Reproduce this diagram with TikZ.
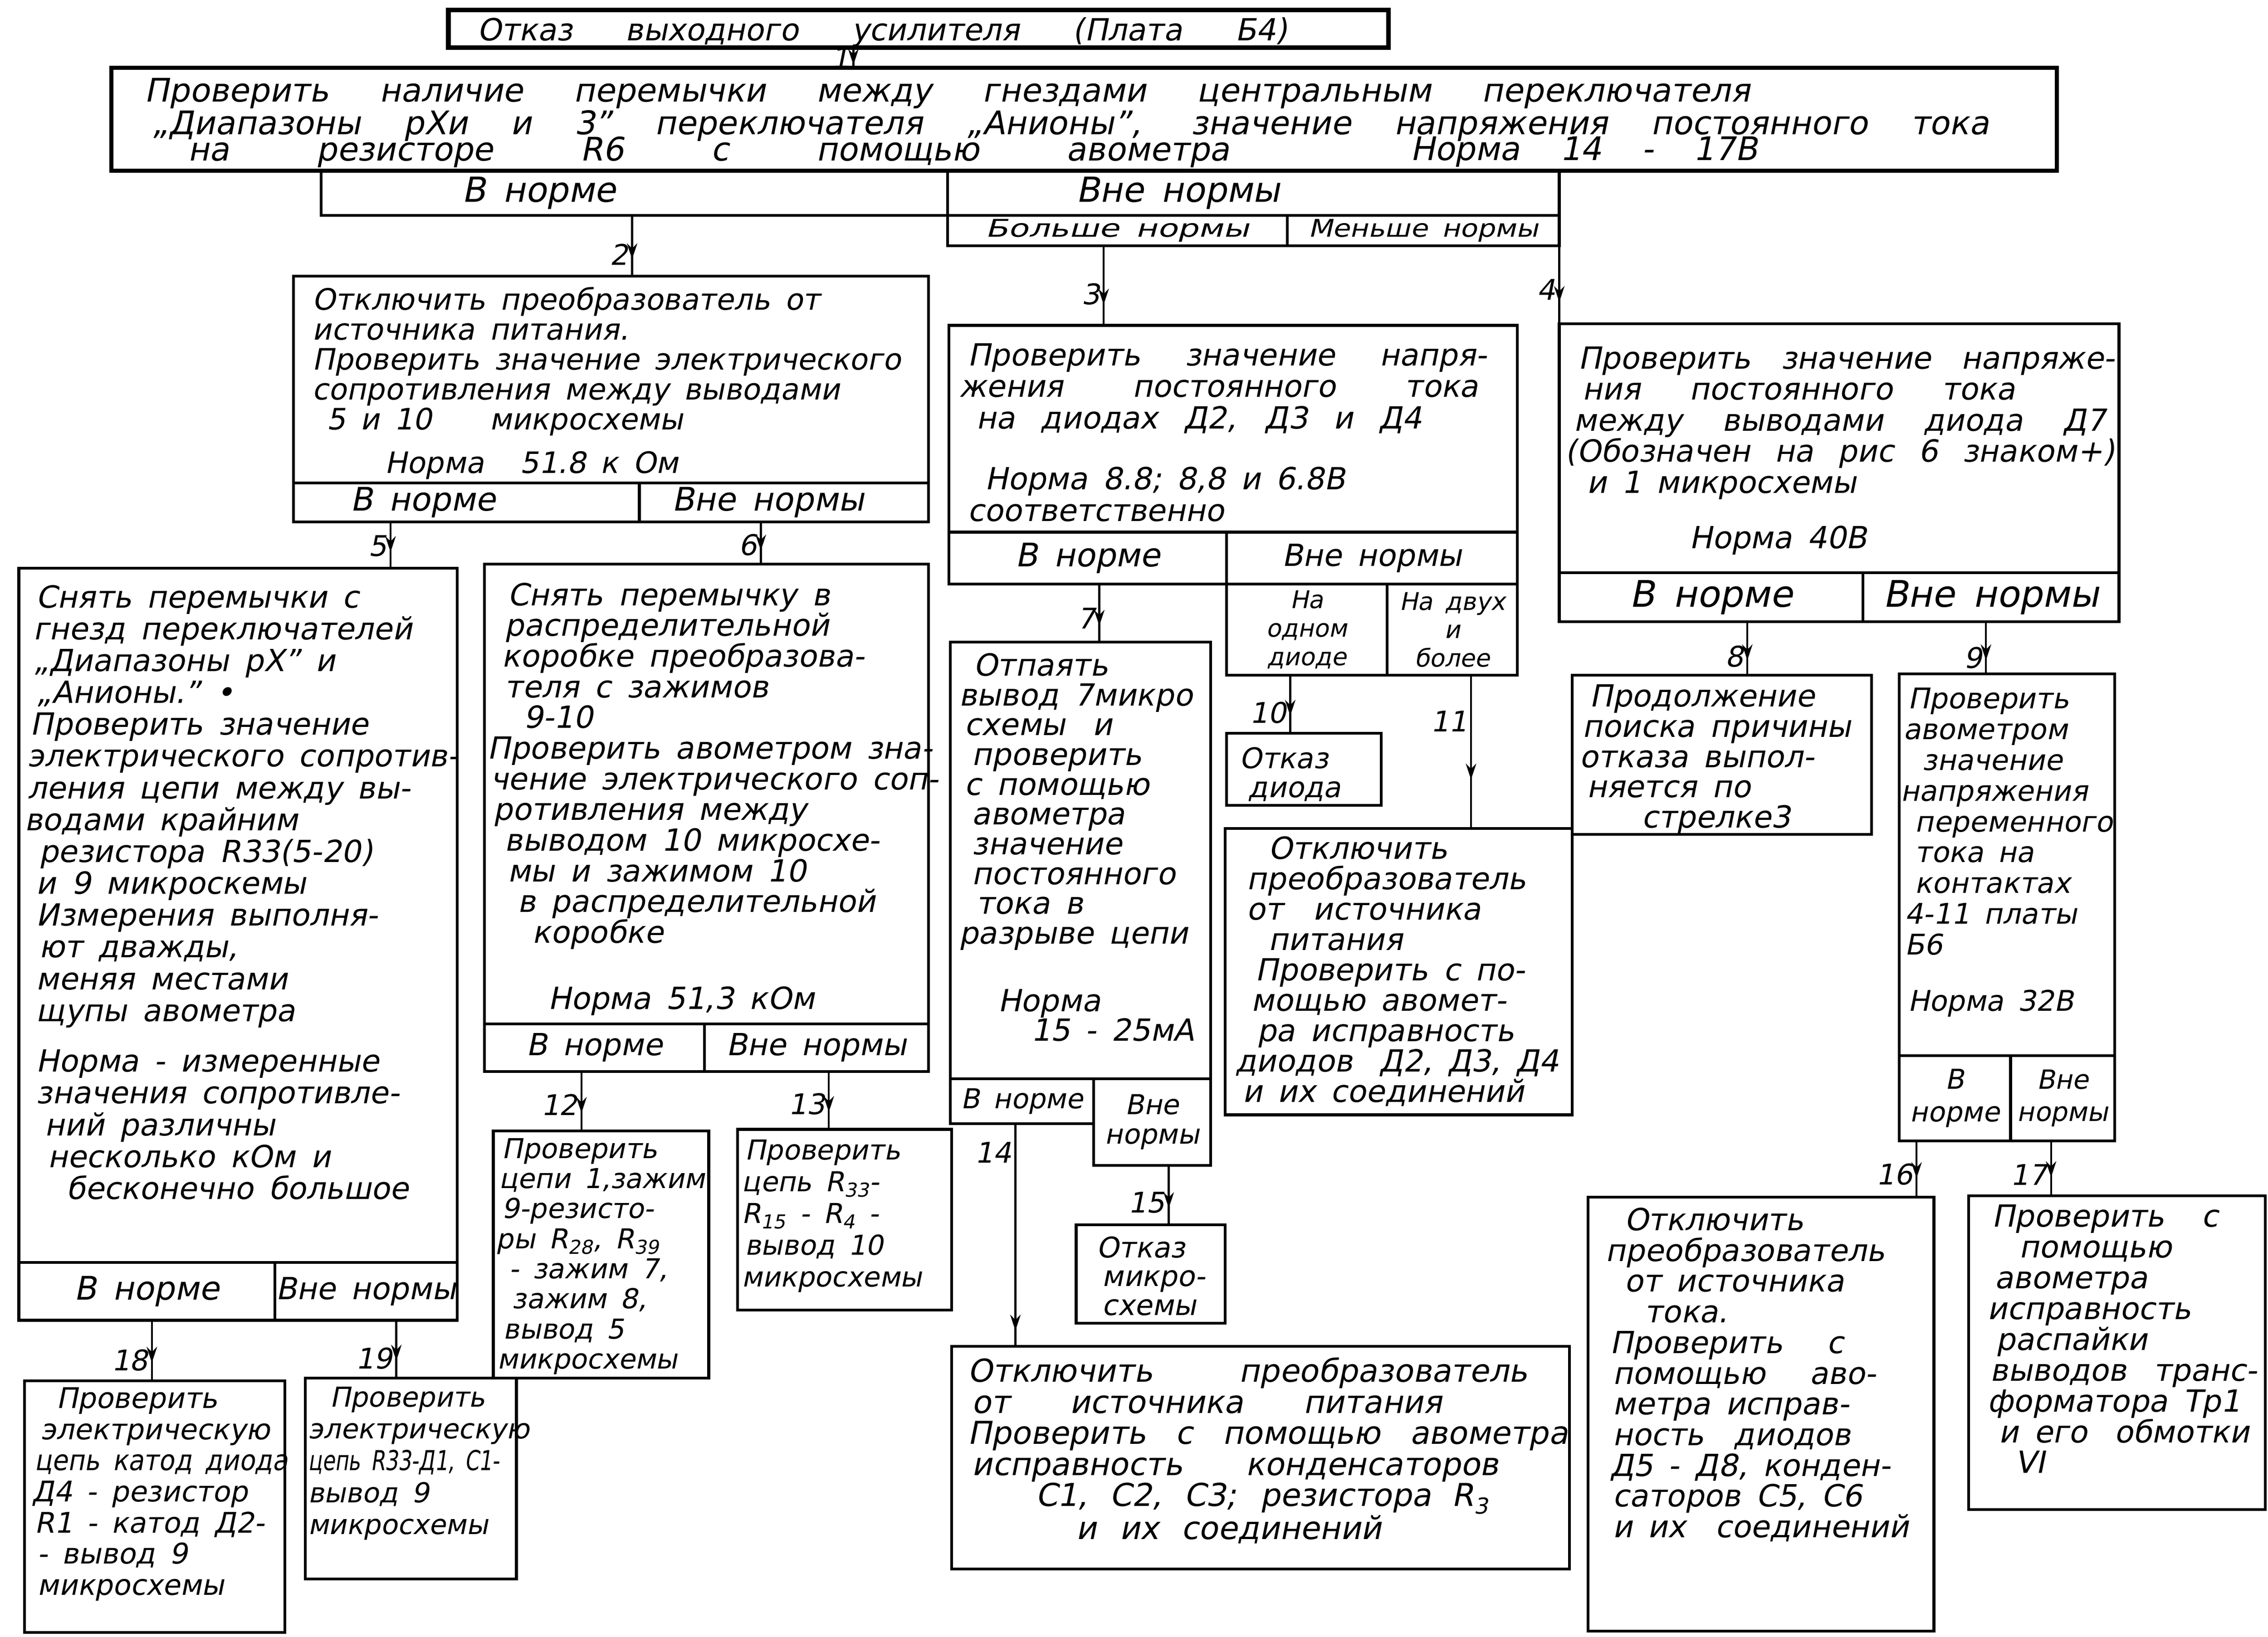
\documentclass[tikz,border=0pt]{standalone}
\usepackage{fontspec}
\setmainfont{DejaVu Sans}[FakeSlant=0.2]
\usepackage{graphicx}
\usetikzlibrary{arrows.meta,decorations.markings}
\newdimen\pxu \pxu=0.05cm
\newcommand\Tst{\rule{0pt}{23pt}}
\newcommand\hsp[1]{\hspace*{#1\pxu}}
\newcommand\myfs[2]{\fontsize{#1}{#2}\selectfont\spaceskip=0.5em plus 0.3em minus 0.1em\relax}
\newcommand\bx[6][]{\node[boxst,anchor=north west,minimum width={(#5-#3)*0.05cm},minimum height={(#6-#4)*0.05cm},#1] (#2) at (#3,#4) {};}
\newcommand\cel[7][]{\node[cellst,anchor=north west,minimum width={(#5-#3)*0.05cm},minimum height={(#6-#4)*0.05cm},#1] (#2) at (#3,#4) {#7};}
\tikzset{
  boxst/.style={draw,line width=2.8pt,inner sep=0pt,outer sep=0pt},
  cellst/.style={draw,line width=2.8pt,inner sep=0pt,outer sep=0pt,align=center},
  txt/.style={inner sep=0pt,outer sep=0pt,align=left,anchor=north west},
  conn/.style={line width=2pt},
  arrowat/.style={postaction={decorate},decoration={markings,mark=at position #1 with {\arrow{Stealth[length=0.55cm,width=0.36cm]}}}},
  num/.style={font=\myfs{28}{30},anchor=east,inner sep=3pt}
}
\begin{document}
\begin{tikzpicture}[x=0.05cm,y=-0.05cm]
\useasboundingbox (0,0) rectangle (1568,1132);
\fill[white] (0,0) rectangle (1568,1132);

% title
\bx[line width=4.5pt]{title}{310}{7}{960}{33}
\node[txt,font=\myfs{30}{31}] (ttl) at (330,11.8) {\Tst\makebox[560\pxu][s]{Отказ выходного усилителя (Плата Б4)}};

% main box A
\bx[line width=4pt]{A}{77}{47}{1422}{118}
\node[txt,font=\myfs{32}{33}] (a1) at (100,54.1) {\Tst\makebox[1110\pxu][s]{Проверить наличие перемычки между гнездами центральным переключателя}};
\node[txt,font=\myfs{32}{33}] (a2) at (105,76.3) {\Tst\makebox[1270\pxu][s]{„Диапазоны рХи и 3" переключателя „Анионы", значение напряжения постоянного тока}};
\node[txt,font=\myfs{32}{33}] (a3) at (130,94.5) {\Tst\makebox[720\pxu][s]{на резисторе R6 с помощью авометра}};
\node[txt,font=\myfs{32}{33}] (a4) at (975,94.5) {\Tst\makebox[240\pxu][s]{Норма 14 - 17В}};
\cel[font=\myfs{34}{36}]{vn}{222}{118}{655}{149}{В норме\hsp{132}}
\cel[font=\myfs{34}{36}]{vnn}{655}{118}{1078}{149}{Вне нормы\hsp{104}}
\cel[font=\myfs{24}{26}]{bn}{655}{149}{890}{170}{\scalebox{1.35}[1]{Больше нормы}}
\cel[font=\myfs{24}{26}]{mn}{890}{149}{1078}{170}{\scalebox{1.15}[1]{Меньше нормы}}

% box 2
\bx{b2}{203}{191}{642}{334}
\node[txt,font=\myfs{29}{29.5}] (t2) at (216,198.1) {\Tst Отключить преобразователь от\\
источника питания.\\
Проверить значение электрического\\
сопротивления между выводами\\
\hsp{10}5 и 10\hsp{40}микросхемы\\[13pt]
\hsp{50}Норма\hsp{25}51.8 к Ом};
\cel[font=\myfs{32}{34}]{c2a}{203}{334}{442}{361}{В норме\hsp{60}}
\cel[font=\myfs{32}{34}]{c2b}{442}{334}{642}{361}{Вне нормы\hsp{22}}

% box 3
\bx{b3}{656}{225}{1049}{368}
\node[txt,font=\myfs{30}{31}] (t3) at (663,236.7) {\Tst\hsp{6}\makebox[359\pxu][s]{Проверить значение напря-}\\
\makebox[359\pxu][s]{жения постоянного тока}\\
\hsp{12}\makebox[308\pxu][s]{на диодах Д2, Д3 и Д4}\\[29pt]
\hsp{18}Норма 8.8; 8,8 и 6.8В\\
\hsp{6}соответственно};
\cel[font=\myfs{32}{34}]{c3a}{656}{368}{848}{404}{В норме}
\cel[font=\myfs{30}{32}]{c3b}{848}{368}{1049}{404}{Вне нормы}
\cel[font=\myfs{24}{28}]{c3c}{848}{404}{959}{467}{На\\одном\\диоде}
\cel[font=\myfs{24}{28}]{c3d}{959}{404}{1049}{467}{На двух\\и\\более}

% box 4
\bx{b4}{1078}{224}{1465}{396}
\node[txt,font=\myfs{30}{30.6}] (t4) at (1082,238.8) {\Tst\hsp{9}\makebox[371\pxu][s]{Проверить значение напряже-}\\
\hsp{12}\makebox[299\pxu][s]{ния постоянного тока}\\
\hsp{6}\makebox[368\pxu][s]{между выводами диода Д7}\\
\makebox[380\pxu][s]{(Обозначен на рис 6 знаком+)}\\
\hsp{15}и 1 микросхемы\\[24pt]
\hsp{86}Норма 40В};
\cel[font=\myfs{36}{38}]{c4a}{1078}{396}{1288}{430}{В норме}
\cel[font=\myfs{36}{38}]{c4b}{1288}{396}{1465}{430}{Вне нормы}

% box 5
\bx{b5}{13}{393}{316}{873}
\node[txt,font=\myfs{30}{31.3}] (t5) at (17,404.1) {\Tst\hsp{8}Снять перемычки с\\
\hsp{6}гнезд переключателей\\
\hsp{6}„Диапазоны рХ" и\\
\hsp{8}„Анионы." •\\
\hsp{4}Проверить значение\\
\hsp{2}электрического сопротив-\\
\hsp{2}ления цепи между вы-\\
водами крайним\\
\hsp{10}резистора R33(5-20)\\
\hsp{8}и 9 микроскемы\\
\hsp{8}Измерения выполня-\\
\hsp{10}ют дважды,\\
\hsp{8}меняя местами\\
\hsp{8}щупы авометра\\[18.5pt]
\hsp{8}Норма - измеренные\\
\hsp{8}значения сопротивле-\\
\hsp{14}ний различны\\
\hsp{16}несколько кОм и\\
\hsp{29}бесконечно большое};
\cel[font=\myfs{32}{34}]{c5a}{13}{873}{190}{913}{В норме}
\cel[font=\myfs{30}{32}]{c5b}{190}{873}{316}{913}{Вне нормы}

% box 6
\bx{b6}{335}{390}{642}{708}
\node[txt,font=\myfs{30}{30.2}] (t6) at (337,402.5) {\Tst\hsp{14}Снять перемычку в\\
\hsp{12}распределительной\\
\hsp{10}коробке преобразова-\\
\hsp{12}теля с зажимов\\
\hsp{25}9-10\\
Проверить авометром зна-\\
\hsp{2}чение электрического соп-\\
\hsp{4}ротивления между\\
\hsp{12}выводом 10 микросхе-\\
\hsp{14}мы и зажимом 10\\
\hsp{21}в распределительной\\
\hsp{31}коробке\\[35pt]
\hsp{42}Норма 51,3 кОм};
\cel[font=\myfs{30}{32}]{c6a}{335}{708}{487}{741}{В норме}
\cel[font=\myfs{30}{32}]{c6b}{487}{708}{642}{741}{Вне нормы}

% box 7
\bx{b7}{657}{444}{837}{746}
\node[txt,font=\myfs{30}{29.3}] (t7) at (663,451.2) {\Tst\hsp{10}Отпаять\\
вывод 7микро\\
\hsp{4}схемы\hsp{8} и\\
\hsp{9}проверить\\
\hsp{4}с помощью\\
\hsp{9}авометра\\
\hsp{9}значение\\
\hsp{9}постоянного\\
\hsp{12}тока в\\
разрыве цепи\\[37pt]
\hsp{27}Норма\\
\hsp{50}15 - 25мА};
\cel[font=\myfs{27}{29}]{c7a}{657}{746}{756}{777}{В норме}
\cel[font=\myfs{27}{29}]{c7b}{756}{746}{837}{806}{Вне\\нормы}

% box 8
\bx{b8}{1087}{467}{1294}{577}
\node[txt,font=\myfs{30}{29.8}] (t8) at (1092,472.6) {\Tst\hsp{7}Продолжение\\
\hsp{2}поиска причины\\
отказа выпол-\\
\hsp{5}няется по\\
\hsp{43}стрелке3};

% box 9
\bx{b9}{1313}{466}{1462}{730}
\node[txt,font=\myfs{28}{30.3}] (t9) at (1314,473.8) {\Tst\hsp{5}Проверить\\
\hsp{2}авометром\\
\hsp{15}значение\\
напряжения\\
\hsp{10}переменного\\
\hsp{10}тока на\\
\hsp{10}контактах\\
\hsp{3}4-11 платы\\
\hsp{3}Б6\\[25pt]
\hsp{5}Норма 32В};
\cel[font=\myfs{27}{32}]{c9a}{1313}{730}{1390}{789}{В\\норме}
\cel[font=\myfs{26}{32}]{c9b}{1390}{730}{1462}{789}{Вне\\нормы}

% box 10
\bx{b10}{848}{507}{955}{557}
\node[txt,font=\myfs{28}{28.4}] (t10) at (857,515.3) {\Tst Отказ\\ \hsp{6}диода};

% box 11
\bx{b11}{847}{573}{1087}{771}
\node[txt,font=\myfs{30}{29.9}] (t11) at (854,577.8) {\Tst\hsp{23}Отключить\\
\hsp{8}преобразователь\\
\hsp{8}от\hsp{10} источника\\
\hsp{23}питания\\
\hsp{14}Проверить с по-\\
\hsp{11}мощью авомет-\\
\hsp{15}ра исправность\\
диодов\hsp{8} Д2, Д3, Д4\\
\hsp{5}и их соединений};

% box 12
\bx{b12}{341}{782}{490}{953}
\node[txt,font=\myfs{27}{29.6}] (t12) at (343,784.8) {\Tst\hsp{4}Проверить\\
\hsp{2}цепи 1,зажим\\
\hsp{4}9-резисто-\\
ры R\textsubscript{28}, R\textsubscript{39}\\
\hsp{9}- зажим 7,\\
\hsp{11}зажим 8,\\
\hsp{5}вывод 5\\
\hsp{1}микросхемы};

% box 13
\bx{b13}{510}{781}{658}{906}
\node[txt,font=\myfs{27}{31.3}] (t13) at (512,785.8) {\Tst\hsp{3}Проверить\\
\hsp{1}цепь R\textsubscript{33}-\\
\hsp{1}R\textsubscript{15} - R\textsubscript{4} -\\
\hsp{3}вывод 10\\
\hsp{1}микросхемы};

% box 14
\bx{b14}{658}{931}{1085}{1085}
\node[txt,font=\myfs{31}{30.6}] (t14) at (669,938.8) {\Tst\makebox[387\pxu][s]{Отключить преобразователь}\\
\hsp{3}\makebox[325\pxu][s]{от источника питания}\\
\makebox[415\pxu][s]{Проверить с помощью авометра}\\
\hsp{3}\makebox[364\pxu][s]{исправность конденсаторов}\\
\hsp{47}\makebox[313\pxu][s]{С1, С2, С3; резистора R\textsubscript{3}}\\
\hsp{75}\makebox[211\pxu][s]{и их соединений}};

% box 15
\bx{b15}{744}{847}{847}{915}
\node[txt,font=\myfs{28}{28.4}] (t15) at (758,853.5) {\Tst Отказ\\ \hsp{4}микро-\\ \hsp{4}схемы};

% box 16
\bx{b16}{1098}{828}{1337}{1128}
\node[txt,font=\myfs{30}{30.2}] (t16) at (1110,834.8) {\Tst\hsp{13}Отключить\\
преобразователь\\
\hsp{13}от источника\\
\hsp{27}тока.\\
\hsp{3}Проверить\hsp{20} с\\
\hsp{5}помощью\hsp{20} аво-\\
\hsp{5}метра исправ-\\
\hsp{5}ность\hsp{10} диодов\\
\hsp{3}Д5 - Д8, конден-\\
\hsp{5}саторов С5, С6\\
\hsp{5}и их\hsp{10} соединений};

% box 17
\bx{b17}{1361}{827}{1566}{1044}
\node[txt,font=\myfs{30}{30.3}] (t17) at (1374,832.3) {\Tst\hsp{3}Проверить\hsp{15} с\\
\hsp{22}помощью\\
\hsp{5}авометра\\
исправность\\
\hsp{6}распайки\\
\hsp{2}выводов\hsp{8} транс-\\
форматора Тр1\\
\hsp{8}и его\hsp{8} обмотки\\
\hsp{19}VI};

% box 18
\bx{b18}{17}{955}{197}{1129}
\node[txt,font=\myfs{28}{30.6}] (t18) at (22,957.8) {\Tst\hsp{17}Проверить\\
\hsp{6}электрическую\\
\hsp{2}\scalebox{0.9}[1]{цепь катод диода}\\
Д4 - резистор\\
\hsp{2}R1 - катод Д2-\\
\hsp{4}- вывод 9\\
\hsp{4}микросхемы};

% box 19
\bx{b19}{211}{953}{357}{1092}
\node[txt,font=\myfs{27}{31.3}] (t19) at (213,956.8) {\Tst\hsp{15}Проверить\\
электрическую\\
\scalebox{0.75}[1]{цепь R33-Д1, С1-}\\
вывод 9\\
микросхемы};

% connector x positions
\coordinate (k1) at (590,0);
\coordinate (k2) at (437,0);
\coordinate (k3) at (763,0);
\coordinate (k4) at (1078,0);
\coordinate (k5) at (270,0);
\coordinate (k6) at (526,0);
\coordinate (k7) at (760,0);
\coordinate (k8) at (1208,0);
\coordinate (k9) at (1373,0);
\coordinate (k10) at (892,0);
\coordinate (k11) at (1017,0);
\coordinate (k12) at (402,0);
\coordinate (k13) at (573,0);
\coordinate (k14) at (702,0);
\coordinate (k15) at (808,0);
\coordinate (k16) at (1325,0);
\coordinate (k17) at (1418,0);
\coordinate (k18) at (105,0);
\coordinate (k19) at (274,0);

\draw[conn,arrowat=0.85] (title.south -| k1) -- node[num,pos=0.5]{1} (A.north -| k1);
\draw[conn,arrowat=0.72] (vn.south -| k2) -- node[num,pos=0.64]{2} (b2.north -| k2);
\draw[conn,arrowat=0.74] (bn.south -| k3) -- node[num,pos=0.61]{3} (b3.north -| k3);
\draw[conn,arrowat=0.72] (mn.south -| k4) -- node[num,pos=0.56]{4} (b4.north -| k4);
\draw[conn,arrowat=0.65] (c2a.south -| k5) -- node[num,pos=0.52]{5} (b5.north -| k5);
\draw[conn,arrowat=0.68] (c2b.south -| k6) -- node[num,pos=0.55]{6} (b6.north -| k6);
\draw[conn,arrowat=0.72] (c3a.south -| k7) -- node[num,pos=0.59]{7} (b7.north -| k7);
\draw[conn,arrowat=0.7] (c3c.south -| k10) -- node[num,pos=0.65]{10} (b10.north -| k10);
\draw[conn,arrowat=0.68] (c3d.south -| k11) -- node[num,pos=0.3]{11} (b11.north -| k11);
\draw[conn,arrowat=0.72] (c4a.south -| k8) -- node[num,pos=0.65]{8} (b8.north -| k8);
\draw[conn,arrowat=0.74] (c4b.south -| k9) -- node[num,pos=0.69]{9} (b9.north -| k9);
\draw[conn,arrowat=0.7] (c6a.south -| k12) -- node[num,pos=0.56]{12} (b12.north -| k12);
\draw[conn,arrowat=0.7] (c6b.south -| k13) -- node[num,pos=0.56]{13} (b13.north -| k13);
\draw[conn,arrowat=0.93] (c7a.south -| k14) -- node[num,pos=0.13]{14} (b14.north -| k14);
\draw[conn,arrowat=0.72] (c7b.south -| k15) -- node[num,pos=0.63]{15} (b15.north -| k15);
\draw[conn,arrowat=0.66] (c9a.south -| k16) -- node[num,pos=0.59]{16} (b16.north -| k16);
\draw[conn,arrowat=0.66] (c9b.south -| k17) -- node[num,pos=0.62]{17} (b17.north -| k17);
\draw[conn,arrowat=0.7] (c5a.south -| k18) -- node[num,pos=0.66]{18} (b18.north -| k18);
\draw[conn,arrowat=0.7] (c5b.south -| k19) -- node[num,pos=0.66]{19} (b19.north -| k19);
\end{tikzpicture}
\end{document}
